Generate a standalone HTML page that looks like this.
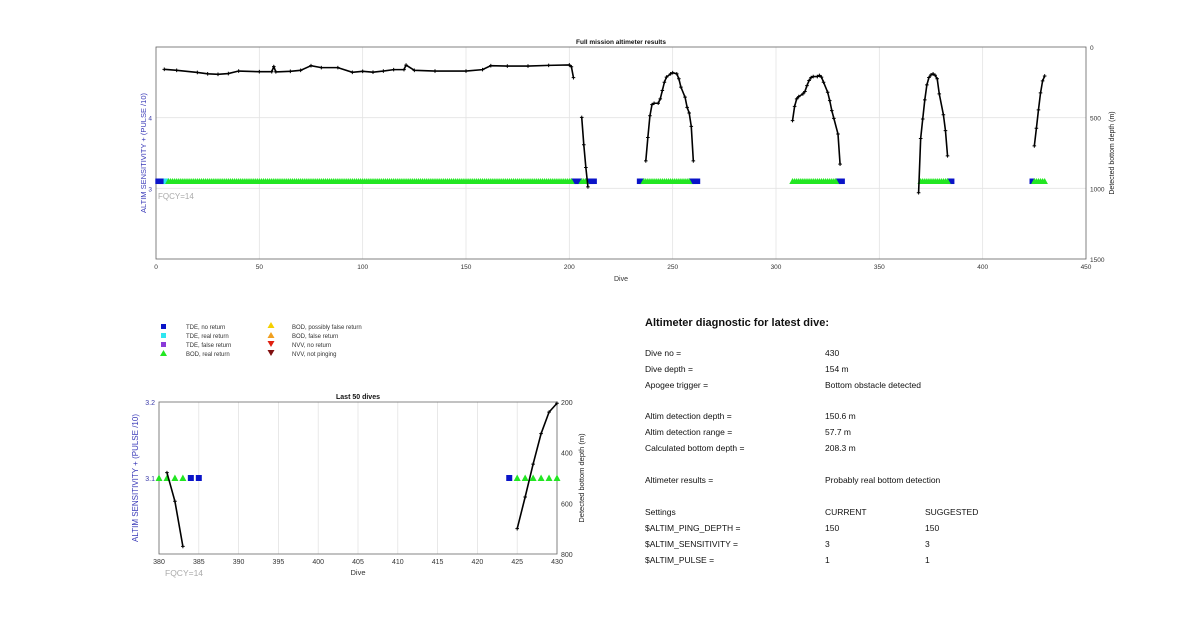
<!DOCTYPE html>
<html><head><meta charset="utf-8"><style>
body{margin:0;background:#fff;width:1200px;height:622px;overflow:hidden;font-family:"Liberation Sans",Arial,sans-serif}
svg text{font-family:"Liberation Sans",Arial,sans-serif}
</style></head><body>
<svg id="svg" width="1200" height="622" viewBox="0 0 1200 622" xmlns="http://www.w3.org/2000/svg">
<g id="top"></g>
<g id="bot"></g>
<g font-size="6" fill="#333">
 <rect x="161" y="324" width="5" height="5" fill="#0a14c8"/><text x="186" y="329">TDE, no return</text>
 <rect x="161" y="333" width="5" height="5" fill="#2ee6f0"/><text x="186" y="338">TDE, real return</text>
 <rect x="161" y="342" width="5" height="5" fill="#8a3ad8"/><text x="186" y="347">TDE, false return</text>
 <polygon points="163.5,350 160,356 167,356" fill="#22e622"/><text x="186" y="356">BOD, real return</text>
 <polygon points="271,322 267.5,328 274.5,328" fill="#f5d000"/><text x="292" y="329">BOD, possibly false return</text>
 <polygon points="271,332 267.5,338 274.5,338" fill="#f0a020"/><text x="292" y="338">BOD, false return</text>
 <polygon points="271,347 267.5,341 274.5,341" fill="#e02010"/><text x="292" y="347">NVV, no return</text>
 <polygon points="271,356 267.5,350 274.5,350" fill="#801010"/><text x="292" y="356">NVV, not pinging</text>
</g>
<g font-size="8.5" fill="#111">
 <text x="645" y="326" font-size="11" font-weight="bold">Altimeter diagnostic for latest dive:</text>
 <text x="645" y="356">Dive no =</text><text x="825" y="356">430</text>
 <text x="645" y="372">Dive depth =</text><text x="825" y="372">154 m</text>
 <text x="645" y="388">Apogee trigger =</text><text x="825" y="388">Bottom obstacle detected</text>
 <text x="645" y="419">Altim detection depth =</text><text x="825" y="419">150.6 m</text>
 <text x="645" y="435">Altim detection range =</text><text x="825" y="435">57.7 m</text>
 <text x="645" y="451">Calculated bottom depth =</text><text x="825" y="451">208.3 m</text>
 <text x="645" y="483">Altimeter results =</text><text x="825" y="483">Probably real bottom detection</text>
 <text x="645" y="515">Settings</text><text x="825" y="515">CURRENT</text><text x="925" y="515">SUGGESTED</text>
 <text x="645" y="531">$ALTIM_PING_DEPTH =</text><text x="825" y="531">150</text><text x="925" y="531">150</text>
 <text x="645" y="547">$ALTIM_SENSITIVITY =</text><text x="825" y="547">3</text><text x="925" y="547">3</text>
 <text x="645" y="563">$ALTIM_PULSE =</text><text x="825" y="563">1</text><text x="925" y="563">1</text>
</g>
</svg>
<script>
// ---- data ----
const depthDives = [4,10,20,25,30,35,40,50,56,57,58,65,70,75,80,88,95,100,105,110,115,120,121,125,135,150,158,162,170,180,190,200,201,202,
 206,207,208,209,
 237,238,239,240,241,243,244,245,246,247,249,250,252,253,254,256,257,258,259,260,
 308,309,310,311,313,314,315,316,317,318,320,321,322,323,325,326,327,328,330,331,
 369,370,371,372,373,374,375,376,377,378,379,381,382,383,
 425,426,427,428,429,430];
const depthVals = [158,165,180,190,193,188,170,175,175,139,176,172,165,132,146,146,179,172,178,170,160,160,128,165,170,170,160,132,135,135,130,127,140,217,
 498,692,853,990,
 806,640,486,408,398,398,367,308,249,213,190,182,190,225,284,355,427,467,562,806,
 521,420,367,351,332,315,273,237,216,209,209,201,213,249,320,379,450,505,616,829,
 1031,647,509,374,268,216,197,190,200,225,332,479,592,770,
 700,575,445,325,240,205];
const segBreaks = [202,209,260,331,383]; // last dive of each connected segment
const blueDives = [1,2,3,4,202,203,204,205,209,210,211,212,234,235,259,260,261,262,330,331,332,384,385,424];
const cyanDives = [5];
const greenRanges = [[6,201],[206,208],[236,258],[308,329],[370,383],[425,430]];
const markerLevel = 3.1;
const topXTicks = [0,50,100,150,200,250,300,350,400,450];
const topLTicks = [3,4];
const topRTicks = [0,500,1000,1500];
const botXTicks = [380,385,390,395,400,405,410,415,420,425,430];
const botLTicks = [3.1,3.2];
const botRTicks = [200,400,600,800];

const NS="http://www.w3.org/2000/svg";
function mk(p,tag,a,txt){const e=document.createElementNS(NS,tag);for(const k in a)e.setAttribute(k,a[k]);if(txt!==undefined)e.textContent=txt;p.appendChild(e);return e;}
const greenDives=[];greenRanges.forEach(r=>{for(let d=r[0];d<=r[1];d++)greenDives.push(d);});

function chart(g,cfg){
 const {x0,x1,y0,y1,xmin,xmax,lmin,lmax,rmin,rmax}=cfg;
 const X=d=>x0+(d-xmin)/(xmax-xmin)*(x1-x0);
 const YL=v=>y1-(v-lmin)/(lmax-lmin)*(y1-y0);
 const YR=v=>y0+(v-rmin)/(rmax-rmin)*(y1-y0);
 mk(g,'rect',{x:x0,y:y0,width:x1-x0,height:y1-y0,fill:'#fff',stroke:'none'});
 cfg.xt.forEach(t=>{const l=mk(g,'line',{x1:X(t),x2:X(t),y1:y0,y2:y1,stroke:'#e3e3e3','stroke-width':0.8});
  
  const tx=mk(g,'text',{x:X(t),y:y1+10,'font-size':cfg.fs,'text-anchor':'middle',fill:'#333'},t);
  });
 cfg.rt.forEach(t=>{if(cfg.hgrid){const l=mk(g,'line',{x1:x0,x2:x1,y1:YR(t),y2:YR(t),stroke:'#e3e3e3','stroke-width':0.8});
   }
  const tx=mk(g,'text',{x:x1+4,y:YR(t)+3,'font-size':cfg.fs,fill:'#333'},t);
  });
 cfg.lt.forEach(t=>{const tx=mk(g,'text',{x:x0-4,y:YL(t)+3,'font-size':cfg.fs,'text-anchor':'end',fill:'#3a3aa8'},t);
  });
 mk(g,'rect',{x:x0,y:y0,width:x1-x0,height:y1-y0,fill:'none',stroke:'#666','stroke-width':0.8});
 const inR=d=>d>=xmin&&d<=xmax;
 const ym=YL(markerLevel), s=cfg.ms;
 blueDives.filter(inR).forEach(d=>{const r=mk(g,'rect',{x:X(d)-s/2,y:ym-s/2,width:s,height:s,fill:'#0a14c8'});
  });
 cyanDives.filter(inR).forEach(d=>{const r=mk(g,'rect',{x:X(d)-s/2,y:ym-s/2,width:s,height:s,fill:'#2ee6f0'});
  });
 greenDives.filter(inR).forEach(d=>{const x=X(d);const p=mk(g,'polygon',{points:`${x},${ym-s/2-0.5} ${x-s/2-0.5},${ym+s/2} ${x+s/2+0.5},${ym+s/2}`,fill:'#22e622'});
  });
 let pts=[];
 const flush=()=>{if(pts.length){const pl=mk(g,'polyline',{points:pts.join(' '),fill:'none',stroke:'#000','stroke-width':cfg.lw});
   }pts=[];};
 depthDives.forEach((d,i)=>{
  if(inR(d)){const x=X(d),y=YR(depthVals[i]);pts.push(x+','+y);
   const m=mk(g,'path',{d:`M${x-1.8},${y}h3.6M${x},${y-1.8}v3.6`,stroke:'#000','stroke-width':1});
   }
  if(segBreaks.includes(d))flush();});
 flush();
 const t=mk(g,'text',{x:(x0+x1)/2,y:y0-3,'font-size':cfg.tfs,'font-weight':'bold','text-anchor':'middle',fill:'#111'},cfg.title);
 
 const xl=mk(g,'text',{x:(x0+x1)/2,y:y1+cfg.xlo,'font-size':cfg.fs+0.5,'text-anchor':'middle',fill:'#333'},'Dive');
 
 const ll=mk(g,'text',{x:0,y:0,transform:`translate(${cfg.llx},${(y0+y1)/2}) rotate(-90)`,'font-size':cfg.fs+1,'text-anchor':'middle',fill:'#3a3ab8'},'ALTIM SENSITIVITY + (PULSE /10)');
 
 const rl=mk(g,'text',{x:0,y:0,transform:`translate(${cfg.rlx},${(y0+y1)/2}) rotate(-90)`,'font-size':cfg.fs+0.5,'text-anchor':'middle',fill:'#222'},'Detected bottom depth (m)');
 
 const fq=mk(g,'text',{x:cfg.fqx,y:cfg.fqy,'font-size':cfg.fs+1.5,fill:'#aaa'},'FQCY=14');
 
}
chart(document.getElementById('top'),{x0:156,x1:1086,y0:47,y1:259,xmin:0,xmax:450,lmin:2,lmax:5,rmin:0,rmax:1500,
 xt:topXTicks,lt:topLTicks,rt:topRTicks,hgrid:true,fs:6.5,tfs:6.5,ms:5.5,lw:1.6,title:'Full mission altimeter results',
 xlo:22,llx:146,rlx:1114,fqx:158,fqy:199});
chart(document.getElementById('bot'),{x0:159,x1:557,y0:402,y1:554,xmin:380,xmax:430,lmin:3.0,lmax:3.2,rmin:200,rmax:800,
 xt:botXTicks,lt:botLTicks,rt:botRTicks,hgrid:false,fs:7,tfs:7,ms:6,lw:1.6,title:'Last 50 dives',
 xlo:21,llx:138,rlx:584,fqx:165,fqy:576});
</script>
</body></html>
